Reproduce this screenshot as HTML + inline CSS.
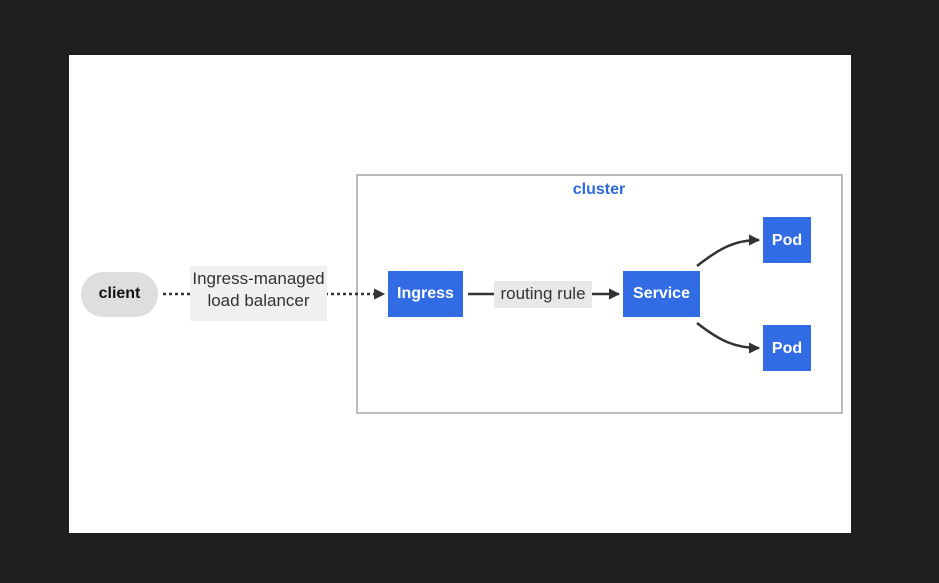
<!DOCTYPE html>
<html><head><style>
html,body{margin:0;padding:0;background:#1f1f1f;}
svg{display:block;font-family:"Liberation Sans",sans-serif;}
</style></head><body>
<svg width="939" height="583" viewBox="0 0 939 583">
<defs><marker id="a" viewBox="0 0 10 10" refX="9" refY="5" markerWidth="4.5" markerHeight="4.5" orient="auto"><path d="M0,0L10,5L0,10z" fill="#333"/></marker></defs>
<rect x="69" y="55" width="782" height="478" fill="#fff"/>
<rect x="357" y="175" width="485" height="238" fill="#fff" stroke="#bbb" stroke-width="2"/>
<text x="599" y="194" font-size="16" font-weight="bold" fill="#2f6ad6" text-anchor="middle">cluster</text>
<rect x="81" y="272" width="77" height="45" rx="22.5" fill="#dedede"/>
<text x="119.5" y="298" font-size="16" font-weight="bold" fill="#111" text-anchor="middle">client</text>
<line x1="163" y1="294" x2="384" y2="294" stroke="#333" stroke-width="2.5" stroke-dasharray="3,3" marker-end="url(#a)"/>
<rect x="190" y="266" width="137" height="55" fill="#f0f0f0"/>
<text x="258.5" y="284" font-size="17" fill="#333" text-anchor="middle">Ingress-managed</text>
<text x="258.5" y="306" font-size="17" fill="#333" text-anchor="middle">load balancer</text>
<rect x="388" y="271" width="75" height="46" fill="#326ce5"/>
<text x="425.5" y="298" font-size="16" font-weight="bold" fill="#fff" text-anchor="middle">Ingress</text>
<line x1="468" y1="294" x2="619" y2="294" stroke="#333" stroke-width="2.5" marker-end="url(#a)"/>
<rect x="494" y="281" width="98" height="27" fill="#e8e8e8"/>
<text x="543" y="299" font-size="17" fill="#333" text-anchor="middle">routing rule</text>
<rect x="623" y="271" width="77" height="46" fill="#326ce5"/>
<text x="661.5" y="298" font-size="16" font-weight="bold" fill="#fff" text-anchor="middle">Service</text>
<path d="M697,266 C720,248 735,240 759,240" fill="none" stroke="#333" stroke-width="2.5" marker-end="url(#a)"/>
<path d="M697,323 C720,341 735,348 759,348" fill="none" stroke="#333" stroke-width="2.5" marker-end="url(#a)"/>
<rect x="763" y="217" width="48" height="46" fill="#326ce5"/>
<text x="787" y="245" font-size="16" font-weight="bold" fill="#fff" text-anchor="middle">Pod</text>
<rect x="763" y="325" width="48" height="46" fill="#326ce5"/>
<text x="787" y="353" font-size="16" font-weight="bold" fill="#fff" text-anchor="middle">Pod</text>
</svg>
</body></html>
